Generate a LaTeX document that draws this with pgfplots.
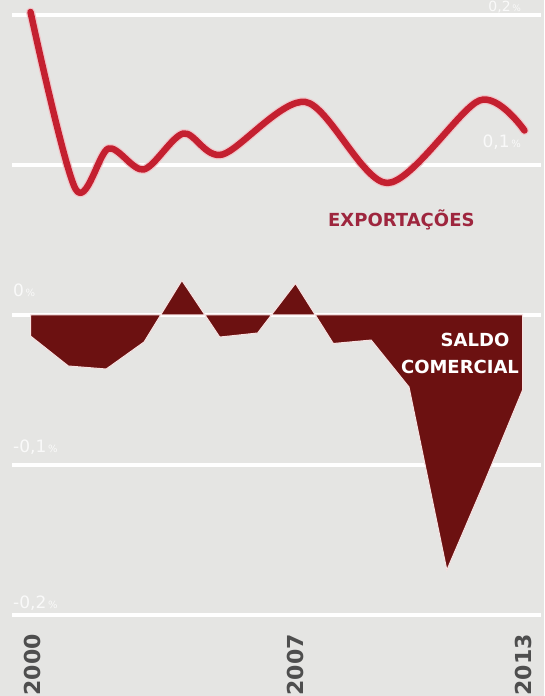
\documentclass[border=0pt]{standalone}
\usepackage{fontspec}
\setmainfont{DejaVu Sans}
\usepackage{pgfplots}
\usepackage{pgfplotstable}
\pgfplotsset{compat=1.18}

\definecolor{bg}{RGB}{229,229,227}
\definecolor{expred}{RGB}{196,32,48}
\definecolor{saldo}{RGB}{108,17,17}
\definecolor{exptxt}{RGB}{158,38,62}
\definecolor{yeartxt}{RGB}{78,78,78}

% exportacoes, % do PIB (curve through turning points)
\pgfplotstableread{
year     v
2000.00  0.202
2001.19  0.084
2002.06  0.111
2002.99  0.097
2004.04  0.121
2005.07  0.107
2007.27  0.142
2009.43  0.088
2011.86  0.143
2013.05  0.123
}\exports

% saldo comercial, % do PIB
\pgfplotstableread{
year  v
2000  0
2000  -0.014
2001  -0.034
2002  -0.036
2003  -0.018
2004  0.023
2005  -0.0147
2006  -0.012
2007  0.021
2008  -0.019
2009  -0.0167
2010  -0.048
2011  -0.170
2012  -0.111
2013  -0.050
2013  0
}\saldo

\begin{document}
\begin{tikzpicture}
\fill[bg] (0pt,0pt) rectangle (544pt,696pt);
\useasboundingbox (0pt,0pt) rectangle (544pt,696pt);
\begin{axis}[
  at={(12pt,0pt)}, anchor=south west,
  scale only axis, width=529pt, height=696pt,
  xmin=1999.511, xmax=2013.487,
  ymin=-0.254, ymax=0.21,
  axis line style={draw=none},
  xtick=\empty,
  ytick={-0.2,-0.1,0,0.1,0.2},
  yticklabels={},
  major tick length=0pt,
  ymajorgrids,
  grid style={white, line width=4.5pt},
  clip=false,
]
% saldo comercial
\addplot[fill=saldo, draw={rgb,255:red,248;green,226;blue,226}, line width=1pt] table[x=year,y=v] {\saldo} --cycle;
% exportacoes
\addplot[smooth, line width=9pt, color=white!75!expred, line cap=round, line join=round] table[x=year,y=v] {\exports};
\addplot[smooth, line width=6.5pt, color=expred, line cap=round, line join=round] table[x=year,y=v] {\exports};
\end{axis}

\begin{scope}[x=1pt,y=1pt]
% value labels
\begin{scope}[every node/.style={text=white, opacity=0.8, inner sep=0pt}]
\node[anchor=west] at (13,406) {\fontsize{17}{20}\selectfont 0{\fontsize{10}{12}\selectfont\,\%}};
\node[anchor=west] at (13,249) {\fontsize{17}{20}\selectfont -0,1{\fontsize{10}{12}\selectfont\,\%}};
\node[anchor=west] at (13,93) {\fontsize{17}{20}\selectfont -0,2{\fontsize{10}{12}\selectfont\,\%}};
\node[anchor=east] at (521,554) {\fontsize{17}{20}\selectfont 0,1{\fontsize{10}{12}\selectfont\,\%}};
\node[anchor=east] at (521,689) {\fontsize{14}{16}\selectfont 0,2{\fontsize{9}{11}\selectfont\,\%}};
\end{scope}

% series names
\node[anchor=west, inner sep=0pt, text=exptxt, font=\bfseries\fontsize{18}{20}\selectfont] at (328,476) {EXPORTAÇÕES};
\node[inner sep=0pt, text=white, font=\bfseries\fontsize{18}{20}\selectfont] at (475,356) {SALDO};
\node[inner sep=0pt, text=white, font=\bfseries\fontsize{18}{20}\selectfont] at (460,329) {COMERCIAL};

% years
\begin{scope}[every node/.style={rotate=90, anchor=east, inner sep=0pt, text=yeartxt, font=\bfseries\fontsize{22}{24}\selectfont}]
\node at (32,62) {2000};
\node at (295,62) {2007};
\node at (523,62) {2013};
\end{scope}
\end{scope}
\end{tikzpicture}
\end{document}
